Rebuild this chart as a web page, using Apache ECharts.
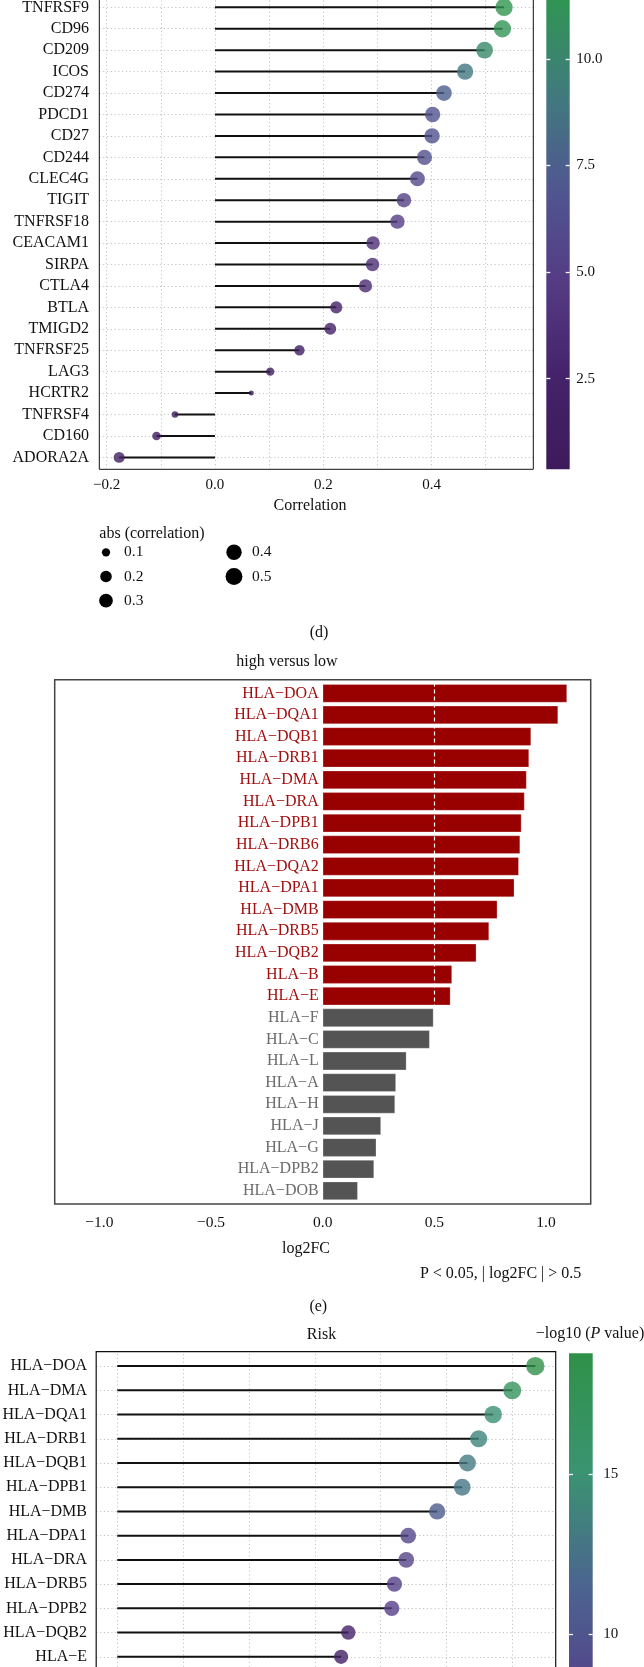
<!DOCTYPE html>
<html>
<head>
<meta charset="utf-8">
<script src="https://cdn.jsdelivr.net/npm/echarts@6/dist/echarts.min.js"></script>
<style>
  html, body { margin: 0; padding: 0; background: #fff; }
  #chart { width: 644px; height: 1667px; }
</style>
</head>
<body>
<div id="chart"></div>
<script>
// (d) immune checkpoints: correlation with risk score
const checkpointGenes = ['TNFRSF9', 'CD96', 'CD209', 'ICOS', 'CD274', 'PDCD1', 'CD27', 'CD244', 'CLEC4G', 'TIGIT',
  'TNFRSF18', 'CEACAM1', 'SIRPA', 'CTLA4', 'BTLA', 'TMIGD2', 'TNFRSF25', 'LAG3', 'HCRTR2', 'TNFRSF4', 'CD160', 'ADORA2A'];
const checkpointCor = [0.534, 0.531, 0.498, 0.462, 0.423, 0.402, 0.401, 0.387, 0.374, 0.349,
  0.337, 0.292, 0.291, 0.278, 0.224, 0.213, 0.156, 0.102, 0.067, -0.074, -0.108, -0.177];
const checkpointLogP = [11.5, 11.3, 10.3, 8.9, 7.4, 6.6, 6.55, 6.2, 5.8, 5.0,
  4.8, 3.6, 3.55, 3.3, 2.3, 2.1, 1.3, 0.7, 0.375, 0.45, 0.75, 1.55];
const corTicks = [-0.2, 0, 0.2, 0.4];
const corGridLines = [-0.2, -0.1, 0, 0.1, 0.2, 0.3, 0.4, 0.5];
const logPRange1 = [0.375, 11.5];
const logPTicks1 = [2.5, 5, 7.5, 10];
const sizeLegend = [0.1, 0.2, 0.3, 0.4, 0.5];

// (e) HLA genes, high versus low
const hlaGenes = ['HLA-DOA', 'HLA-DQA1', 'HLA-DQB1', 'HLA-DRB1', 'HLA-DMA', 'HLA-DRA', 'HLA-DPB1', 'HLA-DRB6',
  'HLA-DQA2', 'HLA-DPA1', 'HLA-DMB', 'HLA-DRB5', 'HLA-DQB2', 'HLA-B', 'HLA-E', 'HLA-F', 'HLA-C', 'HLA-L',
  'HLA-A', 'HLA-H', 'HLA-J', 'HLA-G', 'HLA-DPB2', 'HLA-DOB'];
const hlaLog2FC = [1.094, 1.054, 0.933, 0.924, 0.913, 0.904, 0.890, 0.884,
  0.878, 0.858, 0.782, 0.745, 0.688, 0.579, 0.572, 0.496, 0.479, 0.375,
  0.328, 0.324, 0.261, 0.240, 0.230, 0.157];
const fcCut = 0.5;
const fcTicks = [-1, -0.5, 0, 0.5, 1];

// (f) HLA genes vs risk
const riskGenes = ['HLA-DOA', 'HLA-DMA', 'HLA-DQA1', 'HLA-DRB1', 'HLA-DQB1', 'HLA-DPB1', 'HLA-DMB',
  'HLA-DPA1', 'HLA-DRA', 'HLA-DRB5', 'HLA-DPB2', 'HLA-DQB2', 'HLA-E'];
const riskCor = [0.635, 0.600, 0.571, 0.549, 0.532, 0.524, 0.486, 0.442, 0.439, 0.421, 0.417, 0.351, 0.340];
const riskLogP = [18.7, 16.9, 14.8, 13.8, 13.1, 12.8, 10.6, 8.6, 8.5, 8.0, 7.8, 3.6, 3.3];
const riskGridLines = [0, 0.1, 0.2, 0.3, 0.4, 0.5, 0.6];
const logPRange3 = [0.5, 18.77];
const logPTicks3 = [10, 15];

const pal1 = ['#3c1a5b', '#45236a', '#553c85', '#4f5890', '#407c7c', '#2f9650'];
const pal3 = ['#3c1a5b', '#44226a', '#563e88', '#4b6490', '#3a9470', '#2f9148'];

const FONT = 'Liberation Serif';
const INK = '#111';
const RED = '#990000', RED_TXT = '#a30f0f', GREY = '#545454', GREY_TXT = '#6b6b6b';

const absCor = checkpointCor.map(Math.abs);
const absMin = Math.min(...absCor), absMax = Math.max(...absCor);
const size1 = r => 5 + 12.3 * Math.sqrt(Math.max(0, (r - absMin) / (absMax - absMin)));
const size3 = r => 9.5 + 14 * r;
const fmtDec = v => (v < 0 ? '\u2212' : '') + Math.abs(v).toFixed(1);
const hlaName = s => s.replace('-', '\u2212');

function barGradient(pal) {
  const n = pal.length - 1;
  return pal.map((c, i) => ({ offset: 1 - i / n, color: c })).reverse();
}
function colorbarItem(pal) {
  return function (params, api) {
    const a = api.coord([0, api.value(1)]);
    const b = api.coord([1, api.value(0)]);
    return {
      type: 'rect',
      shape: { x: a[0], y: a[1], width: b[0] - a[0], height: b[1] - a[1] },
      style: { fill: new echarts.graphic.LinearGradient(0, 0, 0, 1, barGradient(pal)) }
    };
  };
}
function gridMarks(xs, cats) {
  return {
    z: 1,
    silent: true,
    symbol: 'none',
    animation: false,
    label: { show: false },
    lineStyle: { color: '#c4c4c4', type: [1.2, 2.6], width: 1 },
    data: xs.map(v => ({ xAxis: v })).concat(cats.map(c => ({ yAxis: c })))
  };
}
function cbAxis(grid, range, ticks, side, labels, margin) {
  return {
    type: 'value', gridIndex: grid, min: range[0], max: range[1], position: side, z: 5,
    axisLine: { show: false, onZero: false },
    axisTick: { inside: true, length: 4, customValues: ticks, lineStyle: { color: '#fff', width: 1.3 } },
    axisLabel: labels ? {
      customValues: ticks, margin: margin, fontFamily: FONT, fontSize: 15, color: INK,
      formatter: labels
    } : { show: false },
    splitLine: { show: false }
  };
}
function plotGrid(left, width, top, height) {
  return { left: left, width: width, top: top, height: height, containLabel: false, outerBoundsMode: 'none' };
}

const chart = echarts.init(document.getElementById('chart'));

const legendGraphics = [];
sizeLegend.forEach((v, i) => {
  const col = i < 3 ? 0 : 1;
  const row = i < 3 ? i : i - 3;
  const cx = col === 0 ? 106 : 234;
  const cy = 552.3 + row * 24.2;
  legendGraphics.push({ type: 'circle', shape: { cx: cx, cy: cy, r: size1(v) / 2 }, style: { fill: '#000' } });
  legendGraphics.push({ type: 'text', x: cx + 18, y: cy,
    style: { text: v.toFixed(1), font: '15.5px "' + FONT + '"', fill: INK, verticalAlign: 'middle' } });
});

function label(text, x, y, align, size) {
  return { type: 'text', x: x, y: y, z: 20,
    style: { text: text, font: (size || 16) + 'px "' + FONT + '"', fill: INK, align: align || 'center', verticalAlign: 'middle' } };
}

// panel e: distance from the grid's left edge to log2FC = 0
const fcZeroOffset = 536 * (0 - -1.2) / (1.2 - -1.2);

chart.setOption({
  animation: false,
  backgroundColor: '#fff',
  grid: [
    plotGrid(99.3, 434, -3.4, 471.5),
    plotGrid(54.7, 536, 682.5, 519.1),
    plotGrid(96.2, 459.5, 1354, 314.9),
    plotGrid(546.3, 23.4, -5, 474.3),
    plotGrid(569, 23.7, 1353.3, 584.6)
  ],
  visualMap: [
    { type: 'continuous', show: false, seriesIndex: 1, dimension: 2, min: logPRange1[0], max: logPRange1[1], inRange: { color: pal1 } },
    { type: 'continuous', show: false, seriesIndex: 4, dimension: 2, min: logPRange3[0], max: logPRange3[1], inRange: { color: pal3 } }
  ],
  xAxis: [
    {
      type: 'value', gridIndex: 0, min: -0.2137, max: 0.588, offset: 1.2,
      axisLine: { show: false },
      axisTick: { customValues: corTicks, length: 3, lineStyle: { color: INK } },
      axisLabel: { customValues: corTicks, formatter: fmtDec, margin: 8, fontFamily: FONT, fontSize: 15, color: INK },
      splitLine: { show: false }
    },
    {
      type: 'value', gridIndex: 1, min: -1.2, max: 1.2, offset: 2.4,
      axisLine: { show: false },
      axisTick: { customValues: fcTicks, length: 4, lineStyle: { color: '#444', width: 1.2 } },
      axisLabel: { customValues: fcTicks, formatter: fmtDec, margin: 10.5, fontFamily: FONT, fontSize: 15.5, color: INK },
      splitLine: { show: false }
    },
    { type: 'value', gridIndex: 2, min: -0.032, max: 0.666, show: false },
    { type: 'value', gridIndex: 3, min: 0, max: 1, show: false },
    { type: 'value', gridIndex: 4, min: 0, max: 1, show: false }
  ],
  yAxis: [
    {
      type: 'category', gridIndex: 0, data: checkpointGenes, inverse: true,
      axisLine: { show: false, onZero: false },
      axisTick: { alignWithLabel: true, length: 3, lineStyle: { color: INK } },
      axisLabel: { margin: 10.3, fontFamily: FONT, fontSize: 16, color: INK },
      splitLine: { show: false }
    },
    {
      type: 'category', gridIndex: 1, data: hlaGenes, inverse: true, position: 'left', offset: -fcZeroOffset,
      axisLine: { show: false, onZero: false },
      axisTick: { show: false },
      axisLabel: {
        margin: 4, fontFamily: FONT, fontSize: 16,
        formatter: hlaName,
        color: v => (hlaLog2FC[hlaGenes.indexOf(v)] > fcCut ? RED_TXT : GREY_TXT)
      },
      splitLine: { show: false }
    },
    {
      type: 'category', gridIndex: 2, data: riskGenes, inverse: true,
      axisLine: { show: false, onZero: false },
      axisTick: { alignWithLabel: true, length: 3, lineStyle: { color: INK } },
      axisLabel: { margin: 9.2, fontFamily: FONT, fontSize: 16, color: INK, formatter: hlaName },
      splitLine: { show: false }
    },
    cbAxis(3, logPRange1, logPTicks1, 'left', null),
    cbAxis(3, logPRange1, logPTicks1, 'right', v => v.toFixed(1), 6.5),
    cbAxis(4, logPRange3, logPTicks3, 'left', null),
    cbAxis(4, logPRange3, logPTicks3, 'right', v => String(v), 10.5)
  ],
  series: [
    {
      type: 'bar', xAxisIndex: 0, yAxisIndex: 0, data: checkpointCor, barWidth: 2, z: 2,
      itemStyle: { color: INK }, silent: true,
      markLine: gridMarks(corGridLines, checkpointGenes)
    },
    {
      type: 'scatter', xAxisIndex: 0, yAxisIndex: 0, z: 3, symbol: 'circle',
      data: checkpointGenes.map((g, i) => [checkpointCor[i], g, checkpointLogP[i]]),
      symbolSize: d => size1(Math.abs(d[0]))
    },
    {
      type: 'bar', xAxisIndex: 1, yAxisIndex: 1, barCategoryGap: '15%', z: 2, silent: true,
      data: hlaLog2FC.map(v => ({ value: v, itemStyle: { color: v > fcCut ? RED : GREY } })),
      itemStyle: { borderColor: 'rgba(255,255,255,0.45)', borderWidth: 0.6 },
      markLine: {
        z: 5, silent: true, symbol: 'none', label: { show: false },
        lineStyle: { color: '#fff', type: [4, 3], width: 1.2 },
        data: [{ xAxis: fcCut }]
      }
    },
    {
      type: 'bar', xAxisIndex: 2, yAxisIndex: 2, data: riskCor, barWidth: 2, z: 2,
      itemStyle: { color: INK }, silent: true,
      markLine: gridMarks(riskGridLines, riskGenes)
    },
    {
      type: 'scatter', xAxisIndex: 2, yAxisIndex: 2, z: 3, symbol: 'circle',
      data: riskGenes.map((g, i) => [riskCor[i], g, riskLogP[i]]),
      symbolSize: d => size3(d[0])
    },
    {
      type: 'custom', xAxisIndex: 3, yAxisIndex: 3, silent: true,
      renderItem: colorbarItem(pal1), data: [logPRange1]
    },
    {
      type: 'custom', xAxisIndex: 4, yAxisIndex: 5, silent: true,
      renderItem: colorbarItem(pal3), data: [logPRange3]
    }
  ],
  graphic: [
    { type: 'rect', z: 10, shape: { x: 99.3, y: -5, width: 434, height: 474.3 }, style: { fill: 'none', stroke: INK, lineWidth: 1 } },
    { type: 'rect', z: 10, shape: { x: 54.7, y: 679.7, width: 536, height: 524.3 }, style: { fill: 'none', stroke: '#444', lineWidth: 1.5 } },
    { type: 'rect', z: 10, shape: { x: 96.2, y: 1351.7, width: 459.5, height: 400 }, style: { fill: 'none', stroke: INK, lineWidth: 1.2 } },
    label('Correlation', 310, 505.7),
    label('abs (correlation)', 99.3, 534, 'left'),
    label('(d)', 319, 632.3),
    label('high versus low', 287, 662),
    label('log2FC', 306, 1248.3),
    label('P < 0.05, | log2FC | > 0.5', 581.3, 1274, 'right'),
    label('(e)', 318.3, 1306.7),
    label('Risk', 321.5, 1334.3),
    {
      type: 'text', x: 535.7, y: 1334, z: 20,
      style: {
        text: '\u2212log10 ({i|P} value)', font: '16px "' + FONT + '"', fill: INK, verticalAlign: 'middle',
        rich: { i: { fontStyle: 'italic', fontFamily: FONT, fontSize: 16 } }
      }
    }
  ].concat(legendGraphics)
});
</script>
</body>
</html>
